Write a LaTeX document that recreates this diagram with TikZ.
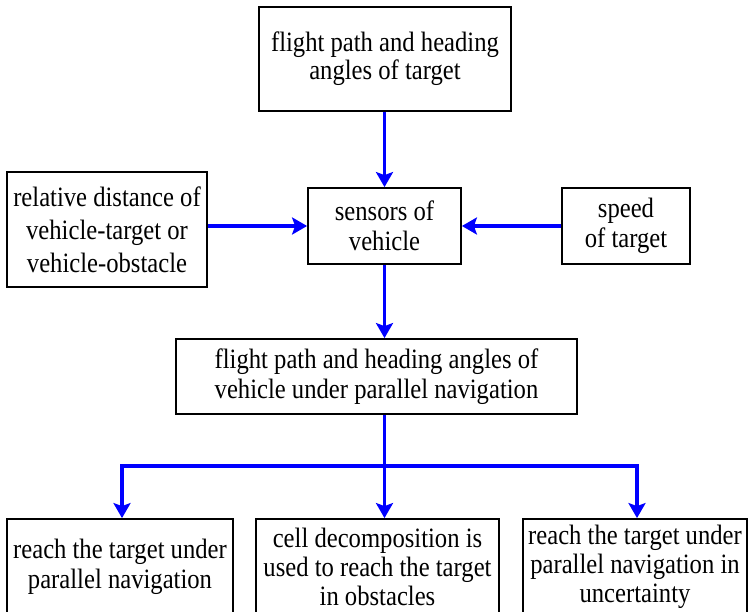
\documentclass[tikz,border=0pt]{standalone}
\usepackage{fontspec}
\setmainfont{Liberation Serif}[FakeStretch=0.88]
\usetikzlibrary{arrows.meta}
\tikzset{
  box/.style={draw=black, line width=1.8pt, fill=white, align=center, inner sep=0pt,
    font=\fontsize{28}{30}\selectfont},
  flow/.style={draw=blue, line width=3.6pt, -{Stealth[length=15pt,width=17pt,inset=3pt]}},
  plain/.style={draw=blue, line width=3.6pt},
}
\begin{document}
\begin{tikzpicture}[x=1pt,y=-1pt]
\useasboundingbox (0,0) rectangle (749,612);
\clip (0,0) rectangle (749,612);
\node[box, minimum width=252pt, minimum height=104pt, font=\fontsize{28}{28}\selectfont] (top) at (385,59)
  {flight path and heading\\angles of target};
\node[box, minimum width=153pt, minimum height=76pt] (sens) at (384.5,226)
  {sensors of\\vehicle};
\node[box, minimum width=200pt, minimum height=115pt, font=\fontsize{28}{33}\selectfont] (left) at (107,229.5)
  {relative distance of\\vehicle-target or\\vehicle-obstacle};
\node[box, minimum width=128pt, minimum height=76pt] (right) at (626,226)
  {speed\\of target};
\node[box, minimum width=401pt, minimum height=75pt] (mid) at (376.5,376.5)
  {flight path and heading angles of\\vehicle under parallel navigation};
\node[box, minimum width=226pt, minimum height=96pt] (b1) at (120,567)
  {reach the target under\\parallel navigation};
\node[box, minimum width=243pt, minimum height=96pt, font=\fontsize{28}{29}\selectfont] (b2) at (377.5,567)
  {cell decomposition is\\used to reach the target\\in obstacles};
\node[box, minimum width=224pt, minimum height=96pt, font=\fontsize{28}{29}\selectfont] (b3) at (635,567)
  {reach the target under\\parallel navigation in\\uncertainty};
\coordinate (j) at (384.5,466);
\coordinate (jl) at (122,466);
\coordinate (jr) at (637,466);
\draw[flow] (sens.north |- top.south) -- (sens.north);
\draw[flow] (sens.west -| left.east) -- (sens.west);
\draw[flow] (right.west) -- (sens.east);
\draw[flow] (sens.south) -- (sens.south |- mid.north);
\draw[plain] (mid.south -| j) -- (j);
\draw[plain, line cap=rect] (jl) -- (jr);
\draw[flow] (jl) -- (jl |- b1.north);
\draw[flow] (j) -- (j |- b2.north);
\draw[flow] (jr) -- (jr |- b3.north);
\end{tikzpicture}
\end{document}
